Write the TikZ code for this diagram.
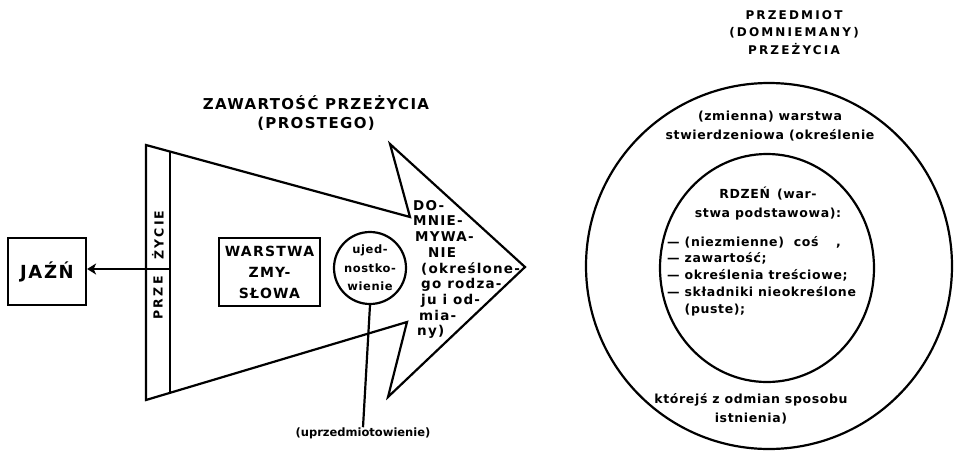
\documentclass[tikz,border=0pt]{standalone}
\usepackage{fontspec}
\setmainfont{DejaVu Sans}[LetterSpace=5, BoldFont={DejaVu Sans Bold}]
\newfontfamily\capf{DejaVu Sans Bold}[LetterSpace=9]
\newfontfamily\capw{DejaVu Sans Bold}[LetterSpace=18]
\newfontfamily\lowf{DejaVu Sans Bold}[LetterSpace=5]
\newfontfamily\lowz{DejaVu Sans Bold}[LetterSpace=0]
\usetikzlibrary{arrows.meta,shapes.geometric}
\begin{document}
\begin{tikzpicture}[x=1pt,y=-1pt,
  ln/.style={line width=2.2pt, line join=miter},
  txt/.style={inner sep=0pt, align=center, font=\lowf\fontsize{12.5}{19}\selectfont},
  captx/.style={inner sep=0pt, align=center, font=\capf\fontsize{15}{19}\selectfont},
  boxn/.style={ln, draw, inner sep=0pt}]
\useasboundingbox (0,0) rectangle (956,453);
% arrow shape
\coordinate (A1) at (146,145);
\coordinate (N1) at (410,217);
\coordinate (B1) at (390,144);
\coordinate (T) at (525,267);
\coordinate (B2) at (388,397);
\coordinate (N2) at (407,322);
\coordinate (A2) at (146,400);
\draw[ln] (A1) -- (N1) -- (B1) -- (T) -- (B2) -- (N2) -- (A2) -- cycle;
\coordinate (I1) at (170,151.5);
\coordinate (I2) at (170,392.8);
\draw[ln] (I1) -- (I2);
\coordinate (D) at (170,269);
% strip labels
\node[captx, rotate=90, font=\capw\fontsize{12.5}{13}\selectfont] (zycie) at (158,235) {ŻYCIE};
\node[captx, rotate=90, font=\capw\fontsize{12.5}{13}\selectfont] (prze) at (158,298) {PRZE};
% JAZN
\node[boxn, minimum width=78pt, minimum height=67pt, font=\capf\fontsize{18}{20}\selectfont] (jazn) at (47,271.5) {JAŹŃ};
\draw[line width=2pt, -{Stealth[length=9pt,width=11pt,inset=2.5pt]}] (D) -- (jazn.east |- D);
% titles
\node[captx] (tit) at (316,113.5) {ZAWARTOŚĆ PRZEŻYCIA\\(PROSTEGO)};
% warstwa zmyslowa
\node[boxn, minimum width=101pt, minimum height=68pt, align=center,
  font=\capf\fontsize{14}{21}\selectfont] (wz) at (269.5,272) {WARSTWA\\ZMY-\\SŁOWA};
% circle
\node[ln, draw, circle, minimum size=72pt, inner sep=0pt] (uj) at (370,268) {};
\node[txt, font=\lowf\fontsize{11.5}{18.5}\selectfont] (ujt) at (uj.center) {ujed-\\nostko-\\wienie};
\node[txt, font=\lowz\fontsize{11.5}{18}\selectfont] (upr) at (363,433) {(uprzedmiotowienie)};
\draw[ln] (uj.south) -- (upr.north);
% domniemywanie
\node[inner sep=0pt, align=left, anchor=north west, font=\capf\fontsize{13.5}{15.7}\selectfont] (dom) at (413,200)
 {DO-\\MNIE-\\\hspace*{2pt}MYWA-\\\hspace*{15pt}NIE\\\hspace*{8pt}(określone-\\\hspace*{8pt}go rodza-\\\hspace*{8pt}ju i od-\\\hspace*{6pt}mia-\\\hspace*{4pt}ny)};
% right side
\node[captx, font=\capw\fontsize{12}{17.5}\selectfont] (pd) at (794,32.5) {PRZEDMIOT\\(DOMNIEMANY)\\PRZEŻYCIA};
\node[ln, draw, circle, minimum size=366pt, inner sep=0pt] (outer) at (769,266) {};
\node[ln, draw, ellipse, minimum width=214pt, minimum height=228pt, inner sep=0pt] (inner) at (767,268) {};
\node[txt] (zm) at (770,126.5) {(zmienna) warstwa\\stwierdzeniowa (określenie};
\node[txt] (rdz) at (768,203) {RDZEŃ \,(war-\\stwa podstawowa):};
\node[inner sep=0pt, align=left, anchor=west, font=\lowf\fontsize{12.5}{16.8}\selectfont] (lst) at (667,276)
 {— (niezmienne) \ coś \quad ,\\— zawartość;\\— określenia treściowe;\\— składniki nieokreślone\\\phantom{— }(puste);};
\node[txt] (kt) at (751,409) {którejś z odmian sposobu\\istnienia)};
\end{tikzpicture}
\end{document}
